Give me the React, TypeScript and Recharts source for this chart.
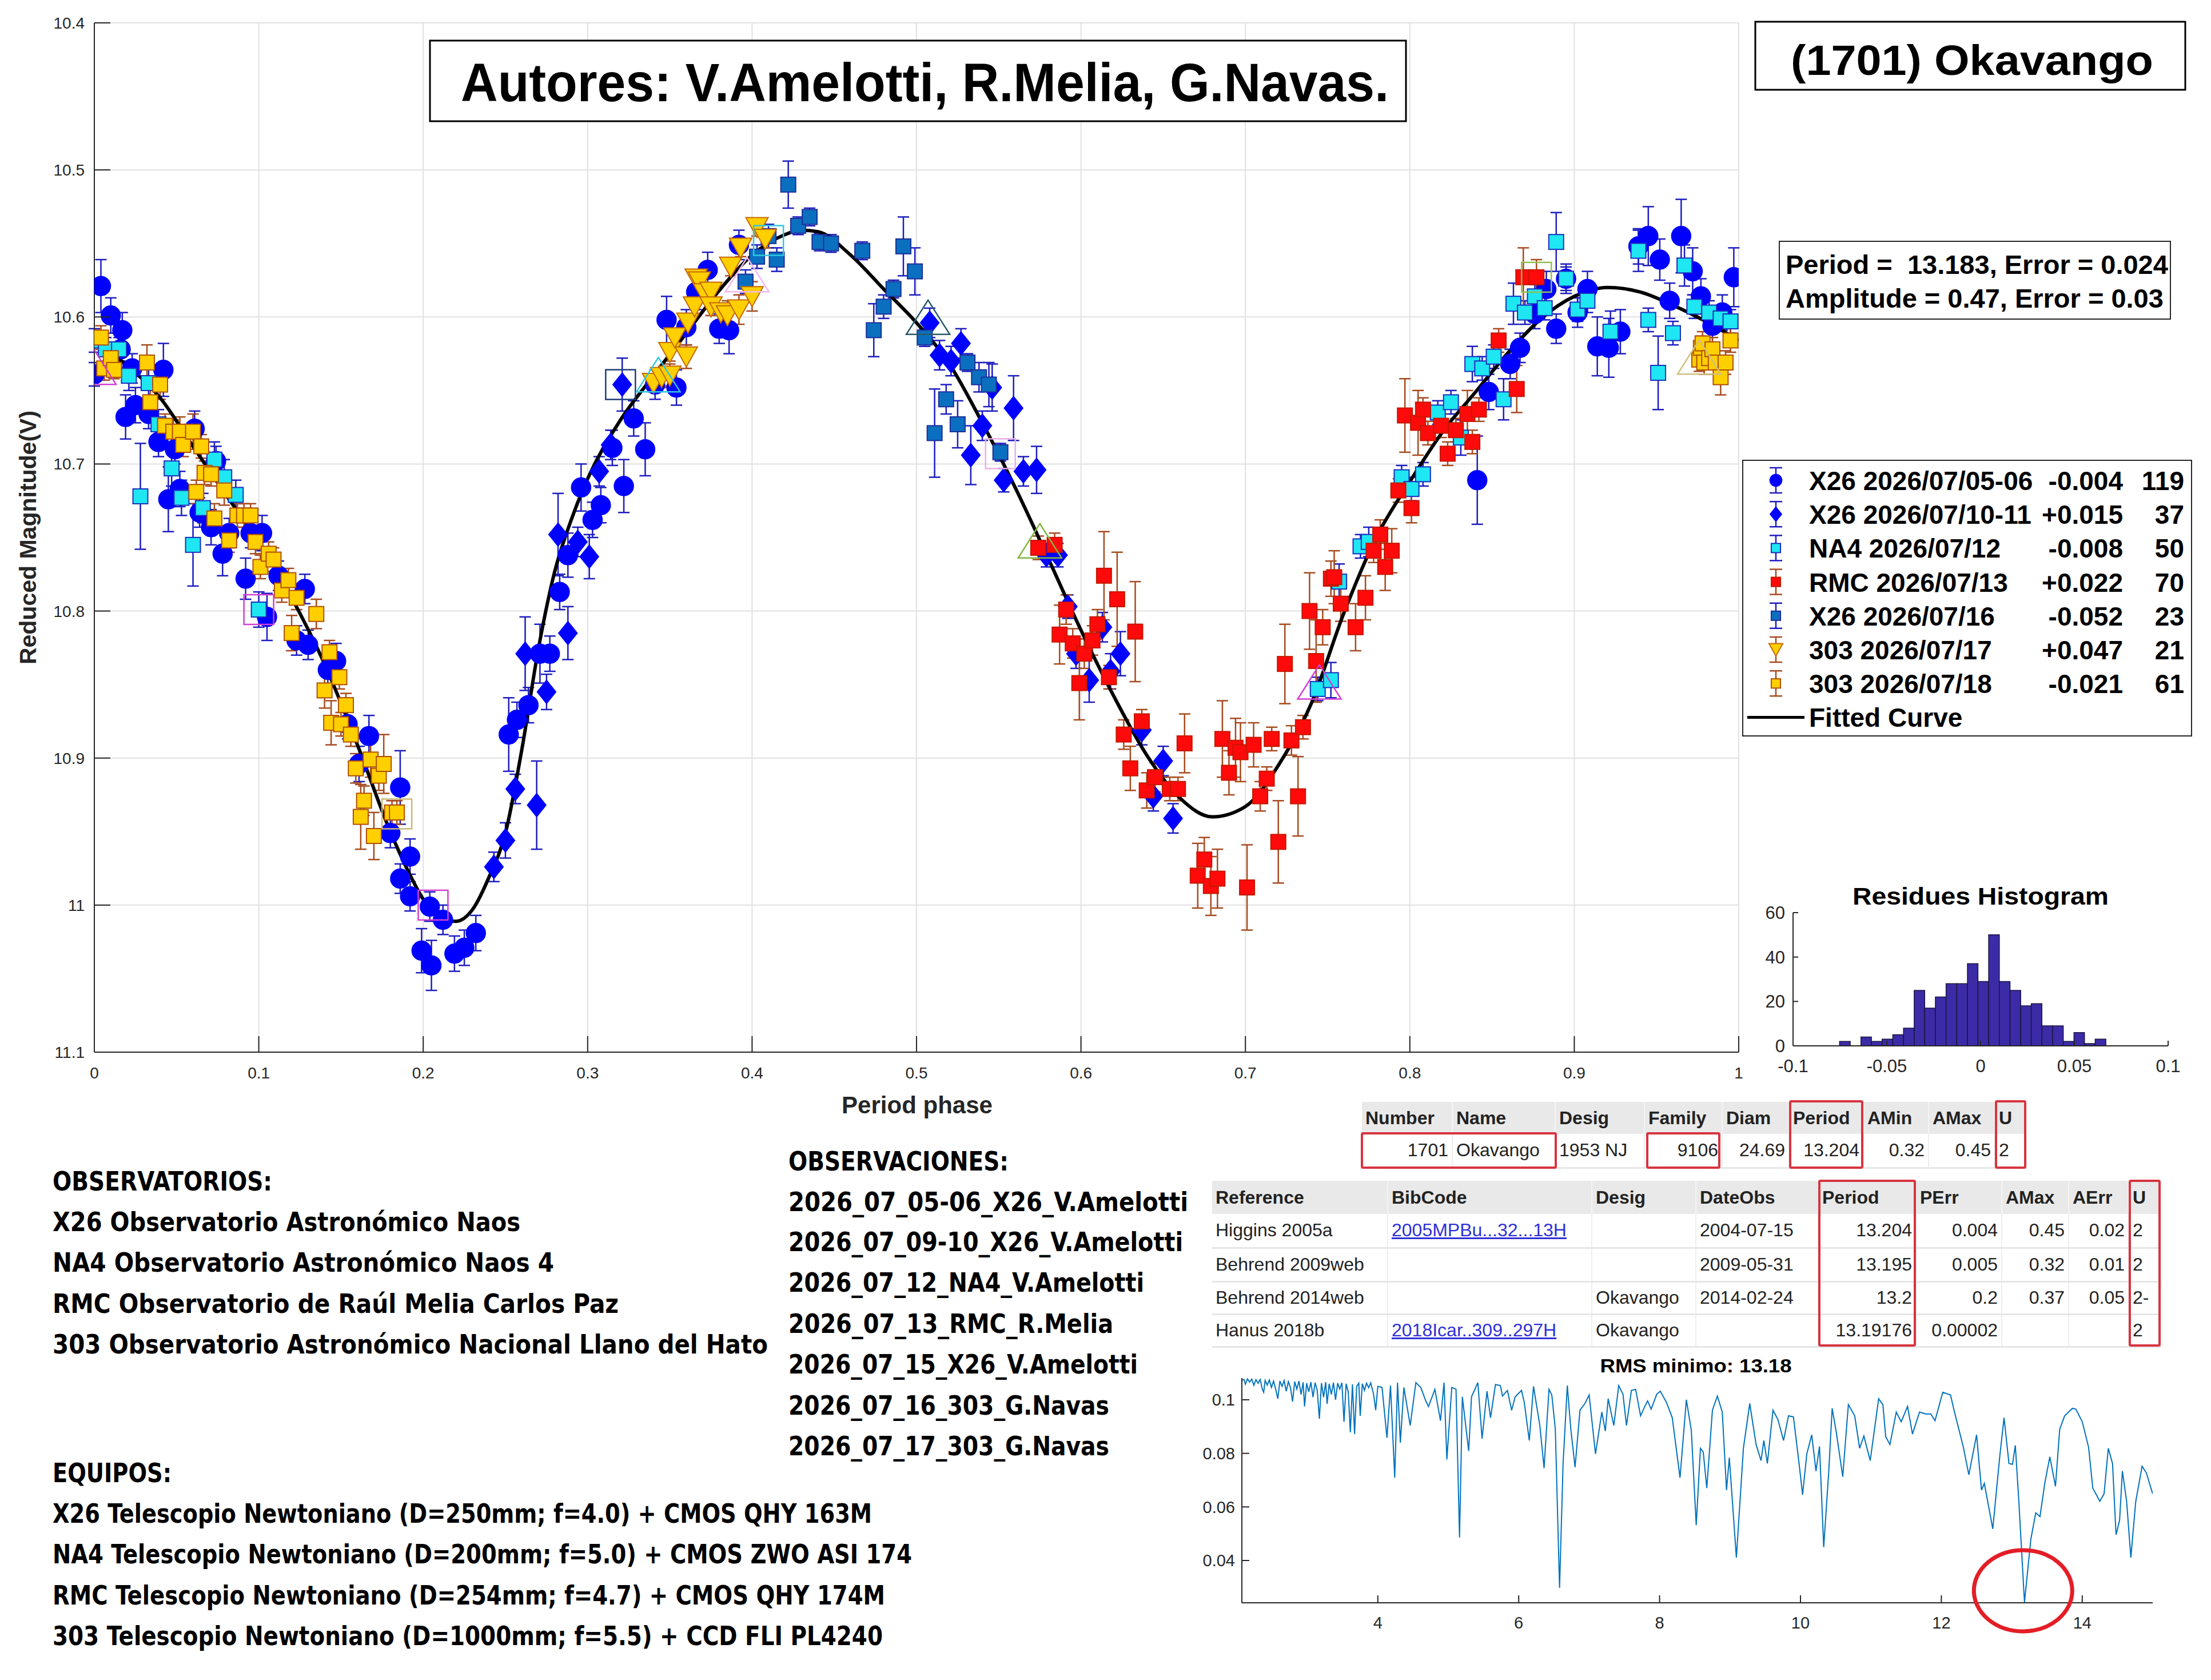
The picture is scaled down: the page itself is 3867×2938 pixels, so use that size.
import React from "react"
import {
  ComposedChart,
  LineChart,
  Line,
  Scatter,
  ErrorBar,
  XAxis,
  YAxis,
  CartesianGrid,
  ReferenceArea,
  ReferenceDot,
} from "recharts"

// [phase, reduced magnitude, error]
type Obs = [number, number, number]

const x26Jul0506: Obs[] = [
  [0.000, 10.639, 0.008], [0.004, 10.579, 0.018], [0.010, 10.599, 0.012], [0.016, 10.622, 0.010],
  [0.017, 10.609, 0.012], [0.019, 10.668, 0.015], [0.023, 10.635, 0.010], [0.025, 10.660, 0.012],
  [0.033, 10.666, 0.010], [0.039, 10.685, 0.010], [0.042, 10.636, 0.018], [0.045, 10.724, 0.022],
  [0.049, 10.690, 0.010], [0.052, 10.717, 0.012], [0.061, 10.676, 0.012], [0.064, 10.733, 0.010],
  [0.071, 10.743, 0.012], [0.074, 10.698, 0.010], [0.078, 10.761, 0.015], [0.082, 10.747, 0.010],
  [0.092, 10.778, 0.014], [0.095, 10.747, 0.010], [0.102, 10.747, 0.012], [0.105, 10.804, 0.016],
  [0.112, 10.776, 0.010], [0.123, 10.820, 0.010], [0.128, 10.785, 0.010], [0.130, 10.823, 0.010],
  [0.142, 10.840, 0.010], [0.147, 10.834, 0.012], [0.154, 10.877, 0.010], [0.161, 10.904, 0.012],
  [0.167, 10.885, 0.014], [0.180, 10.951, 0.010], [0.186, 10.920, 0.025], [0.186, 10.982, 0.010],
  [0.192, 10.967, 0.012], [0.192, 10.994, 0.010], [0.199, 11.031, 0.015], [0.204, 11.001, 0.010],
  [0.205, 11.041, 0.017], [0.212, 11.010, 0.010], [0.219, 11.033, 0.012], [0.225, 11.029, 0.012],
  [0.232, 11.019, 0.012],
  [0.252, 10.884, 0.025], [0.257, 10.874, 0.012], [0.264, 10.864, 0.012], [0.271, 10.829, 0.020],
  [0.277, 10.829, 0.012], [0.283, 10.787, 0.012], [0.288, 10.762, 0.015], [0.296, 10.716, 0.016],
  [0.303, 10.738, 0.012], [0.308, 10.728, 0.012], [0.315, 10.689, 0.012], [0.322, 10.715, 0.018],
  [0.328, 10.669, 0.012], [0.335, 10.690, 0.018], [0.341, 10.646, 0.010], [0.348, 10.602, 0.016],
  [0.354, 10.648, 0.012], [0.360, 10.607, 0.012], [0.366, 10.583, 0.012], [0.373, 10.568, 0.012],
  [0.380, 10.608, 0.010], [0.386, 10.609, 0.016], [0.392, 10.551, 0.010],
  [0.841, 10.711, 0.030], [0.848, 10.651, 0.012], [0.861, 10.632, 0.010], [0.867, 10.621, 0.010],
  [0.876, 10.598, 0.010], [0.883, 10.581, 0.012], [0.889, 10.608, 0.010], [0.895, 10.574, 0.010],
  [0.902, 10.597, 0.010], [0.908, 10.581, 0.012], [0.914, 10.620, 0.020], [0.921, 10.621, 0.020],
  [0.928, 10.610, 0.015], [0.939, 10.552, 0.012], [0.945, 10.545, 0.020], [0.952, 10.561, 0.014],
  [0.958, 10.589, 0.012], [0.965, 10.545, 0.025], [0.972, 10.569, 0.016], [0.977, 10.586, 0.012],
  [0.984, 10.606, 0.012], [0.990, 10.597, 0.012], [0.997, 10.573, 0.020],
]

const x26Jul1011: Obs[] = [
  [0.243, 10.974, 0.010], [0.250, 10.956, 0.012], [0.256, 10.921, 0.010], [0.262, 10.829, 0.025],
  [0.269, 10.932, 0.030], [0.275, 10.855, 0.012], [0.282, 10.748, 0.028], [0.288, 10.815, 0.018],
  [0.294, 10.753, 0.010], [0.301, 10.763, 0.015], [0.307, 10.705, 0.010], [0.314, 10.687, 0.010],
  [0.321, 10.646, 0.018],
  [0.508, 10.604, 0.010], [0.514, 10.626, 0.010], [0.521, 10.630, 0.010], [0.527, 10.618, 0.010],
  [0.533, 10.694, 0.020], [0.540, 10.674, 0.010], [0.546, 10.648, 0.016], [0.553, 10.711, 0.008],
  [0.559, 10.662, 0.022], [0.565, 10.705, 0.010], [0.573, 10.704, 0.016], [0.579, 10.762, 0.008],
  [0.586, 10.762, 0.008], [0.592, 10.797, 0.008], [0.597, 10.829, 0.010], [0.605, 10.847, 0.015],
  [0.613, 10.811, 0.010], [0.618, 10.841, 0.012], [0.624, 10.829, 0.015], [0.637, 10.881, 0.010],
  [0.644, 10.926, 0.010], [0.650, 10.902, 0.010], [0.656, 10.941, 0.010],
]

const na4Jul12: Obs[] = [
  [0.000, 10.616, 0.008], [0.007, 10.622, 0.008], [0.015, 10.622, 0.008], [0.021, 10.640, 0.010],
  [0.028, 10.722, 0.036], [0.033, 10.645, 0.010], [0.039, 10.673, 0.010], [0.047, 10.703, 0.012],
  [0.053, 10.723, 0.012], [0.060, 10.755, 0.028], [0.066, 10.730, 0.010], [0.073, 10.697, 0.012],
  [0.079, 10.709, 0.012], [0.086, 10.721, 0.010], [0.100, 10.799, 0.012],
  [0.744, 10.853, 0.008], [0.752, 10.847, 0.012], [0.757, 10.780, 0.012], [0.770, 10.756, 0.008],
  [0.775, 10.753, 0.010], [0.795, 10.709, 0.008], [0.801, 10.717, 0.008], [0.808, 10.707, 0.008],
  [0.817, 10.665, 0.008], [0.825, 10.658, 0.008], [0.831, 10.682, 0.012], [0.838, 10.632, 0.012],
  [0.844, 10.635, 0.008], [0.851, 10.627, 0.008], [0.857, 10.656, 0.014], [0.863, 10.591, 0.014],
  [0.870, 10.597, 0.008], [0.876, 10.586, 0.008], [0.882, 10.594, 0.008], [0.889, 10.549, 0.020],
  [0.895, 10.574, 0.008], [0.902, 10.595, 0.008], [0.908, 10.589, 0.008], [0.922, 10.610, 0.014],
  [0.939, 10.555, 0.014], [0.945, 10.602, 0.008], [0.951, 10.638, 0.025], [0.960, 10.611, 0.008],
  [0.967, 10.565, 0.014], [0.973, 10.593, 0.008], [0.982, 10.597, 0.008], [0.989, 10.601, 0.008],
  [0.995, 10.603, 0.008],
]

const rmcJul13: Obs[] = [
  [0.574, 10.757, 0.008], [0.584, 10.755, 0.008], [0.587, 10.816, 0.020], [0.591, 10.799, 0.010],
  [0.595, 10.822, 0.010], [0.599, 10.849, 0.025], [0.602, 10.829, 0.010], [0.607, 10.820, 0.010],
  [0.610, 10.809, 0.010], [0.614, 10.776, 0.030], [0.617, 10.845, 0.008], [0.622, 10.792, 0.032],
  [0.626, 10.884, 0.010], [0.630, 10.907, 0.015], [0.633, 10.814, 0.034], [0.637, 10.875, 0.008],
  [0.640, 10.922, 0.012], [0.645, 10.913, 0.010], [0.654, 10.921, 0.008], [0.659, 10.921, 0.008],
  [0.663, 10.890, 0.020], [0.671, 10.980, 0.022], [0.675, 10.969, 0.015], [0.679, 10.987, 0.020],
  [0.683, 10.982, 0.020], [0.686, 10.887, 0.026], [0.690, 10.910, 0.015], [0.694, 10.893, 0.020],
  [0.697, 10.896, 0.020], [0.701, 10.988, 0.029], [0.705, 10.891, 0.015], [0.709, 10.926, 0.010],
  [0.713, 10.914, 0.008], [0.716, 10.887, 0.008], [0.720, 10.957, 0.028], [0.724, 10.836, 0.027],
  [0.728, 10.888, 0.010], [0.732, 10.926, 0.027], [0.735, 10.879, 0.008], [0.739, 10.800, 0.026],
  [0.743, 10.834, 0.028], [0.747, 10.811, 0.012], [0.752, 10.778, 0.012], [0.754, 10.777, 0.018],
  [0.758, 10.795, 0.012], [0.767, 10.811, 0.016], [0.773, 10.791, 0.015], [0.778, 10.759, 0.008],
  [0.782, 10.748, 0.010], [0.785, 10.770, 0.016], [0.789, 10.759, 0.015], [0.793, 10.718, 0.008],
  [0.797, 10.667, 0.025], [0.801, 10.730, 0.010], [0.805, 10.672, 0.022], [0.808, 10.663, 0.008],
  [0.811, 10.679, 0.008], [0.819, 10.674, 0.008], [0.823, 10.693, 0.008], [0.828, 10.677, 0.008],
  [0.835, 10.666, 0.016], [0.838, 10.685, 0.008], [0.842, 10.663, 0.008], [0.854, 10.616, 0.008],
  [0.865, 10.649, 0.016], [0.869, 10.573, 0.020], [0.877, 10.573, 0.012],
]

const x26Jul16: Obs[] = [
  [0.396, 10.576, 0.008], [0.403, 10.559, 0.008], [0.410, 10.545, 0.008], [0.415, 10.561, 0.008],
  [0.422, 10.510, 0.016], [0.428, 10.538, 0.006], [0.435, 10.532, 0.006], [0.441, 10.549, 0.006],
  [0.448, 10.550, 0.006], [0.467, 10.555, 0.006], [0.474, 10.609, 0.018], [0.480, 10.593, 0.008],
  [0.486, 10.581, 0.006], [0.492, 10.552, 0.020], [0.499, 10.569, 0.016], [0.505, 10.614, 0.006],
  [0.511, 10.679, 0.030], [0.518, 10.656, 0.010], [0.525, 10.673, 0.016], [0.531, 10.631, 0.006],
  [0.538, 10.641, 0.010], [0.544, 10.646, 0.015], [0.551, 10.692, 0.006],
]

const obs303Jul17: Obs[] = [
  [0.340, 10.645, 0.006], [0.345, 10.641, 0.006], [0.350, 10.640, 0.008], [0.350, 10.624, 0.006],
  [0.353, 10.614, 0.006], [0.360, 10.627, 0.008], [0.361, 10.604, 0.006], [0.365, 10.593, 0.006],
  [0.366, 10.574, 0.006], [0.368, 10.576, 0.008], [0.371, 10.584, 0.006], [0.375, 10.583, 0.006],
  [0.375, 10.593, 0.006], [0.381, 10.597, 0.006], [0.385, 10.599, 0.010], [0.387, 10.566, 0.006],
  [0.392, 10.595, 0.010], [0.393, 10.553, 0.006], [0.400, 10.586, 0.010], [0.403, 10.539, 0.006],
  [0.408, 10.547, 0.006],
]

const obs303Jul18: Obs[] = [
  [0.004, 10.614, 0.008], [0.006, 10.635, 0.008], [0.010, 10.628, 0.006], [0.012, 10.636, 0.006],
  [0.032, 10.631, 0.012], [0.034, 10.658, 0.010], [0.040, 10.646, 0.010], [0.043, 10.674, 0.008],
  [0.048, 10.678, 0.008], [0.052, 10.678, 0.010], [0.054, 10.687, 0.008], [0.060, 10.678, 0.012],
  [0.062, 10.719, 0.008], [0.065, 10.688, 0.008], [0.067, 10.706, 0.008], [0.071, 10.707, 0.008],
  [0.073, 10.737, 0.010], [0.079, 10.718, 0.010], [0.082, 10.752, 0.008], [0.087, 10.735, 0.008],
  [0.091, 10.735, 0.008], [0.095, 10.735, 0.008], [0.098, 10.753, 0.008], [0.101, 10.770, 0.008],
  [0.106, 10.761, 0.008], [0.109, 10.765, 0.008], [0.114, 10.786, 0.008], [0.118, 10.779, 0.008],
  [0.120, 10.815, 0.012], [0.123, 10.791, 0.008], [0.135, 10.802, 0.010], [0.140, 10.854, 0.012],
  [0.143, 10.828, 0.008], [0.144, 10.876, 0.015], [0.149, 10.845, 0.008], [0.150, 10.877, 0.008],
  [0.153, 10.864, 0.008], [0.156, 10.884, 0.008], [0.159, 10.907, 0.010], [0.162, 10.940, 0.022],
  [0.164, 10.929, 0.010], [0.168, 10.901, 0.012], [0.170, 10.953, 0.016], [0.173, 10.912, 0.010],
  [0.176, 10.904, 0.020], [0.181, 10.937, 0.008], [0.184, 10.937, 0.008],
  [0.976, 10.629, 0.008], [0.977, 10.621, 0.008], [0.978, 10.618, 0.008], [0.979, 10.631, 0.008],
  [0.982, 10.628, 0.008], [0.984, 10.622, 0.008], [0.986, 10.631, 0.008], [0.989, 10.641, 0.012],
  [0.992, 10.631, 0.008], [0.995, 10.616, 0.008],
]

// start/end markers of each session (hollow)
const sessionMarks: [number, number, "tri" | "sq"][] = [
  [0.000, 10.635, "tri"], [0.100, 10.799, "sq"], [0.184, 10.938, "sq"], [0.206, 11.000, "sq"],
  [0.320, 10.646, "sq"], [0.343, 10.640, "tri"], [0.410, 10.548, "sq"], [0.397, 10.572, "tri"],
  [0.507, 10.601, "tri"], [0.551, 10.693, "sq"], [0.575, 10.753, "tri"], [0.745, 10.849, "tri"],
  [0.877, 10.573, "sq"], [0.976, 10.628, "tri"],
]

const fitPhase = [
  0, 0.02, 0.04, 0.06, 0.08, 0.1, 0.12, 0.14, 0.16, 0.18, 0.19, 0.2, 0.21, 0.22, 0.23, 0.24, 0.25,
  0.26, 0.27, 0.28, 0.29, 0.3, 0.32, 0.34, 0.36, 0.38, 0.4, 0.42, 0.43, 0.44, 0.46, 0.48, 0.5, 0.52,
  0.54, 0.56, 0.58, 0.6, 0.62, 0.64, 0.66, 0.68, 0.7, 0.72, 0.74, 0.76, 0.78, 0.8, 0.82, 0.84, 0.86,
  0.88, 0.9, 0.92, 0.94, 0.96, 0.98, 1,
]
const fitMag = [
  10.617, 10.633, 10.655, 10.688, 10.721, 10.753, 10.791, 10.836, 10.891, 10.95, 10.975, 10.996,
  11.009, 11.011, 11.003, 10.981, 10.951, 10.894, 10.826, 10.773, 10.738, 10.71, 10.67, 10.64,
  10.611, 10.582, 10.558, 10.544, 10.541, 10.542, 10.558, 10.581, 10.604, 10.632, 10.672, 10.716,
  10.764, 10.813, 10.858, 10.898, 10.927, 10.94, 10.933, 10.905, 10.863, 10.801, 10.749, 10.712,
  10.678, 10.651, 10.624, 10.601, 10.586, 10.58, 10.583, 10.592, 10.603, 10.616,
]

const phaseTicks = [0, 0.1, 0.2, 0.3, 0.4, 0.5, 0.6, 0.7, 0.8, 0.9, 1]
const magTicks = [10.4, 10.5, 10.6, 10.7, 10.8, 10.9, 11, 11.1]

const legendLabels = [
  "X26 2026/07/05-06", "X26 2026/07/10-11", "NA4 2026/07/12", "RMC 2026/07/13",
  "X26 2026/07/16", "303 2026/07/17", "303 2026/07/18",
]
const legendOffsets = ["-0.004", "+0.015", "-0.008", "+0.022", "-0.052", "+0.047", "-0.021"]
const legendCounts = ["119", "37", "50", "70", "23", "21", "61"]

// residual histogram
const residueEdges = [
  -0.0752, -0.0695, -0.0638, -0.0582, -0.0525, -0.0468, -0.0411, -0.0354, -0.0298, -0.0241,
  -0.0184, -0.0127, -0.007, -0.0014, 0.0043, 0.01, 0.0157, 0.0214, 0.027, 0.0327, 0.0384, 0.0441,
  0.0498, 0.0554, 0.0611, 0.0668,
]
const residueCounts = [2, 0, 4, 2, 3, 5, 8, 25, 17, 22, 28, 28, 37, 29, 50, 29, 25, 18, 19, 9, 9, 2, 6, 1, 3]
const residueTicksX = [-0.1, -0.05, 0, 0.05, 0.1]
const residueTicksY = [0, 20, 40, 60]

// period scan: [period h, rms]
const rmsScan: [number, number][] = [
  [2.07, 0.1072], [2.1, 0.1076], [2.12, 0.1058], [2.15, 0.1078], [2.18, 0.1066], [2.21, 0.1077],
  [2.24, 0.1054], [2.27, 0.1075], [2.3, 0.1062], [2.33, 0.1076], [2.36, 0.104], [2.38, 0.1028],
  [2.4, 0.1072], [2.43, 0.1055], [2.46, 0.1074], [2.49, 0.1046], [2.52, 0.107], [2.55, 0.104],
  [2.58, 0.1004], [2.61, 0.107], [2.64, 0.105], [2.67, 0.1072], [2.7, 0.1032], [2.73, 0.1068],
  [2.76, 0.1045], [2.79, 0.0993], [2.82, 0.1068], [2.85, 0.104], [2.88, 0.107], [2.91, 0.102],
  [2.94, 0.1065], [2.96, 0.0975], [2.99, 0.1062], [3.02, 0.103], [3.05, 0.1066], [3.08, 0.101],
  [3.11, 0.1064], [3.14, 0.1035], [3.17, 0.0929], [3.2, 0.1062], [3.23, 0.101], [3.26, 0.1066],
  [3.28, 0.0985], [3.31, 0.106], [3.34, 0.102], [3.37, 0.1064], [3.4, 0.1], [3.43, 0.1062],
  [3.46, 0.104], [3.49, 0.1064], [3.52, 0.0918], [3.55, 0.106], [3.58, 0.103], [3.61, 0.0879],
  [3.64, 0.1058], [3.67, 0.0872], [3.7, 0.105], [3.73, 0.1062], [3.75, 0.094], [3.78, 0.106],
  [3.81, 0.1035], [3.84, 0.1062], [3.87, 0.1045], [3.9, 0.1063], [3.94, 0.102], [3.97, 0.0961],
  [4.0, 0.105], [4.06, 0.1046], [4.13, 0.0858], [4.18, 0.1053], [4.24, 0.0709], [4.28, 0.1064],
  [4.32, 0.084], [4.37, 0.1046], [4.46, 0.0904], [4.54, 0.1064], [4.61, 0.1046], [4.68, 0.0996],
  [4.72, 0.0975], [4.81, 0.1039], [4.89, 0.0922], [4.94, 0.1064], [4.98, 0.0777], [5.05, 0.1046],
  [5.11, 0.1039], [5.16, 0.0486], [5.2, 0.1011], [5.29, 0.0809], [5.33, 0.1011], [5.42, 0.1064],
  [5.48, 0.0855], [5.55, 0.1032], [5.6, 0.0933], [5.67, 0.1057], [5.74, 0.1053], [5.77, 0.1014],
  [5.84, 0.1035], [5.9, 0.0961], [5.95, 0.1011], [6.04, 0.1035], [6.08, 0.0989], [6.15, 0.0848],
  [6.21, 0.105], [6.3, 0.0904], [6.36, 0.0745], [6.43, 0.1039], [6.47, 0.1018], [6.52, 0.089],
  [6.58, 0.0298], [6.63, 0.0762], [6.69, 0.1053], [6.74, 0.089], [6.8, 0.0748], [6.87, 0.0961],
  [6.94, 0.0986], [7.0, 0.1018], [7.09, 0.0798], [7.18, 0.0954], [7.23, 0.0883], [7.27, 0.1004],
  [7.35, 0.0904], [7.42, 0.1053], [7.48, 0.1021], [7.53, 0.0904], [7.6, 0.1035], [7.66, 0.1039],
  [7.73, 0.094], [7.79, 0.0975], [7.83, 0.0996], [7.88, 0.0965], [7.96, 0.1021], [8.01, 0.1032],
  [8.1, 0.0989], [8.18, 0.0933], [8.29, 0.0709], [8.38, 0.1], [8.45, 0.0887], [8.52, 0.0532],
  [8.58, 0.0819], [8.62, 0.0805], [8.67, 0.067], [8.75, 0.0961], [8.82, 0.1014], [8.89, 0.0954],
  [8.95, 0.0663], [8.99, 0.0784], [9.09, 0.0411], [9.19, 0.0819], [9.28, 0.0986], [9.37, 0.0833],
  [9.44, 0.0773], [9.48, 0.0848], [9.53, 0.0762], [9.61, 0.0961], [9.68, 0.0926], [9.76, 0.0848],
  [9.83, 0.094], [9.9, 0.0936], [9.98, 0.0762], [10.03, 0.0645], [10.09, 0.0798], [10.16, 0.0869],
  [10.22, 0.0734], [10.27, 0.0826], [10.33, 0.045], [10.4, 0.0727], [10.45, 0.0968], [10.51, 0.0876],
  [10.6, 0.0713], [10.68, 0.0982], [10.77, 0.094], [10.84, 0.0819], [10.9, 0.0865], [10.99, 0.0773],
  [11.11, 0.1004], [11.17, 0.0982], [11.21, 0.0862], [11.27, 0.0833], [11.36, 0.0954], [11.43, 0.0918],
  [11.52, 0.0975], [11.59, 0.0872], [11.69, 0.0954], [11.78, 0.0947], [11.85, 0.0947], [11.91, 0.0922],
  [12.02, 0.1028], [12.13, 0.1018], [12.18, 0.0961], [12.31, 0.0826], [12.39, 0.072], [12.5, 0.0869],
  [12.57, 0.0663], [12.61, 0.0688], [12.73, 0.0518], [12.83, 0.0791], [12.89, 0.0933], [12.96, 0.0762],
  [13.01, 0.0759], [13.05, 0.083], [13.1, 0.0621], [13.18, 0.0244], [13.27, 0.0479], [13.34, 0.0578],
  [13.4, 0.0564], [13.47, 0.0691], [13.54, 0.0787], [13.62, 0.0677], [13.68, 0.089], [13.75, 0.094],
  [13.86, 0.0968], [13.91, 0.0965], [14.0, 0.0918], [14.09, 0.0823], [14.15, 0.067], [14.25, 0.0621],
  [14.31, 0.0649], [14.37, 0.0819], [14.43, 0.0762], [14.48, 0.0496], [14.53, 0.055], [14.57, 0.0734],
  [14.63, 0.0621], [14.69, 0.0411], [14.76, 0.0621], [14.85, 0.0752], [14.91, 0.0727], [15.0, 0.0649],
]
const scanTicksX = [4, 6, 8, 10, 12, 14]
const scanTicksY = [0.04, 0.06, 0.08, 0.1]
const rmsBestPeriod = 13.16
const rmsBestMark = 0.0287

const observatorios = [
  "OBSERVATORIOS:",
  "X26 Observatorio Astronómico Naos",
  "NA4 Observatorio Astronómico Naos 4",
  "RMC Observatorio de Raúl Melia Carlos Paz",
  "303 Observatorio Astronómico Nacional Llano del Hato",
]
const observaciones = [
  "OBSERVACIONES:",
  "2026_07_05-06_X26_V.Amelotti",
  "2026_07_09-10_X26_V.Amelotti",
  "2026_07_12_NA4_V.Amelotti",
  "2026_07_13_RMC_R.Melia",
  "2026_07_15_X26_V.Amelotti",
  "2026_07_16_303_G.Navas",
  "2026_07_17_303_G.Navas",
]
const equipos = [
  "EQUIPOS:",
  "X26 Telescopio Newtoniano (D=250mm; f=4.0) + CMOS QHY 163M",
  "NA4 Telescopio Newtoniano (D=200mm; f=5.0) + CMOS ZWO ASI 174",
  "RMC Telescopio Newtoniano (D=254mm; f=4.7) + CMOS QHY 174M",
  "303 Telescopio Newtoniano (D=1000mm; f=5.5) + CCD FLI PL4240",
]

const lcdbHead = ["Number", "Name", "Desig", "Family", "Diam", "Period", "AMin", "AMax", "U"]
const lcdbRow = ["1701", "Okavango", "1953 NJ", "9106", "24.69", "13.204", "0.32", "0.45", "2"]
const refHead = ["Reference", "BibCode", "Desig", "DateObs", "Period", "PErr", "AMax", "AErr", "U"]
const refRows = [
  ["Higgins 2005a", "2005MPBu...32...13H", "", "2004-07-15", "13.204", "0.004", "0.45", "0.02", "2"],
  ["Behrend 2009web", "", "", "2009-05-31", "13.195", "0.005", "0.32", "0.01", "2"],
  ["Behrend 2014web", "", "Okavango", "2014-02-24", "13.2", "0.2", "0.37", "0.05", "2-"],
  ["Hanus 2018b", "2018Icar..309..297H", "Okavango", "", "13.19176", "0.00002", "", "", "2"],
]

// ---------------------------------------------------------------------------

const AXIS = "#262626"
const SANS = "'Liberation Sans', Arial, Helvetica, sans-serif"
const NARROW = "'Liberation Sans Narrow', 'DejaVu Sans Condensed', 'Liberation Sans', sans-serif"

type Kind = "circle" | "diamond" | "square" | "tri-down"

const seriesStyle: { kind: Kind; fill: string; stroke: string; bar: string }[] = [
  { kind: "circle", fill: "#0000ff", stroke: "#0000ff", bar: "#1c1cc0" },
  { kind: "diamond", fill: "#0000ff", stroke: "#0000ff", bar: "#1c1cc0" },
  { kind: "square", fill: "#1ee6f2", stroke: "#1b2fc0", bar: "#1c1cc0" },
  { kind: "square", fill: "#ff0a0a", stroke: "#c41800", bar: "#a64a1e" },
  { kind: "square", fill: "#0b6fc0", stroke: "#1b2f9a", bar: "#1c1cc0" },
  { kind: "tri-down", fill: "#ffcf00", stroke: "#c46a00", bar: "#a64a1e" },
  { kind: "square", fill: "#ffcf00", stroke: "#b05000", bar: "#a64a1e" },
]
const seriesRows = [x26Jul0506, x26Jul1011, na4Jul12, rmcJul13, x26Jul16, obs303Jul17, obs303Jul18]
const sessionColors = [
  "#d23fd2", "#d23fd2", "#c8b878", "#d23fd2", "#203c78", "#30c8e0", "#30c8e0",
  "#f0b8f0", "#285a6a", "#e8b0e8", "#80b840", "#d23fd2", "#90c050", "#d0c080",
]

const toPoints = (rows: Obs[]) => rows.map(([phase, mag, err]) => ({ phase, mag, err }))
const fitCurve = fitPhase.map((phase, i) => ({ phase, mag: fitMag[i] }))
const scanPoints = rmsScan.map(([period, rms]) => ({ period, rms }))

function Marker({ kind, cx, cy, fill, stroke, s = 1 }: { kind: Kind; cx: number; cy: number; fill: string; stroke: string; s?: number }) {
  if (kind === "circle") return <circle cx={cx} cy={cy} r={17 * s} fill={fill} stroke={stroke} strokeWidth={1.5} />
  if (kind === "diamond") {
    const w = 16.5 * s
    const h = 20.5 * s
    return <polygon points={`${cx},${cy - h} ${cx + w},${cy} ${cx},${cy + h} ${cx - w},${cy}`} fill={fill} stroke={stroke} strokeWidth={1.5} />
  }
  if (kind === "square") {
    const h = 13 * s
    return <rect x={cx - h} y={cy - h} width={2 * h} height={2 * h} fill={fill} stroke={stroke} strokeWidth={2} />
  }
  const w = 19.5 * s
  return <polygon points={`${cx - w},${cy - 17 * s} ${cx + w},${cy - 17 * s} ${cx},${cy + 18 * s}`} fill={fill} stroke={stroke} strokeWidth={2} />
}

function HollowMark({ cx, cy, kind, color }: any) {
  if (kind === "sq") return <rect x={cx - 26} y={cy - 26} width={52} height={52} fill="none" stroke={color} strokeWidth={2.5} />
  return <polygon points={`${cx},${cy - 32} ${cx + 38},${cy + 28} ${cx - 38},${cy + 28}`} fill="none" stroke={color} strokeWidth={2.5} />
}

// inward tick marks, MATLAB style
const BottomTick = ({ x, y, payload, len, size, gap, label = true }: any) => (
  <g>
    <line x1={x} y1={y} x2={x} y2={y - len} stroke={AXIS} strokeWidth={2} />
    {label && (
      <text x={x} y={y + gap} dy="0.71em" textAnchor="middle" fontSize={size} fill={AXIS}>
        {String(payload.value)}
      </text>
    )}
  </g>
)
const LeftTick = ({ x, y, payload, len, size, gap }: any) => (
  <g>
    <line x1={x} y1={y} x2={x + len} y2={y} stroke={AXIS} strokeWidth={2} />
    <text x={x - gap} y={y} dy="0.355em" textAnchor="end" fontSize={size} fill={AXIS}>
      {String(payload.value)}
    </text>
  </g>
)
const TopTick = ({ x, y, len }: any) => <line x1={x} y1={y} x2={x} y2={y + len} stroke={AXIS} strokeWidth={2} />
const RightTick = ({ x, y, len }: any) => <line x1={x} y1={y} x2={x - len} y2={y} stroke={AXIS} strokeWidth={2} />

function LightCurve() {
  return (
    <div style={{ position: "absolute", left: 0, top: 0 }}>
      <ComposedChart width={3060} height={1990} margin={{ top: 40, right: 19, bottom: 0, left: 0 }}>
        <CartesianGrid stroke="#e1e1e1" strokeWidth={2} />
        <XAxis
          type="number" dataKey="phase" domain={[0, 1]} ticks={phaseTicks} interval={0} allowDataOverflow
          height={150} tickSize={0} tickMargin={0} tickLine={false}
          axisLine={{ stroke: AXIS, strokeWidth: 2 }}
          tick={<BottomTick len={28} size={28} gap={26} />}
        />
        <YAxis
          type="number" dataKey="mag" domain={[10.4, 11.1]} reversed ticks={magTicks} interval={0} allowDataOverflow
          width={165} tickSize={0} tickMargin={0} tickLine={false}
          axisLine={{ stroke: AXIS, strokeWidth: 2 }}
          tick={<LeftTick len={28} size={28} gap={17} />}
        />
        {seriesRows.map((rows, i) => {
          const st = seriesStyle[i]
          return (
            <Scatter
              key={legendLabels[i]}
              name={legendLabels[i]}
              data={toPoints(rows)}
              isAnimationActive={false}
              shape={(p: any) => <Marker kind={st.kind} cx={p.cx} cy={p.cy} fill={st.fill} stroke={st.stroke} />}
            >
              <ErrorBar dataKey="err" direction="y" width={10} stroke={st.bar} strokeWidth={2.5} />
            </Scatter>
          )
        })}
        {sessionMarks.map(([phase, mag, kind], i) => (
          <Scatter
            key={`mark-${i}`}
            data={[{ phase, mag }]}
            isAnimationActive={false}
            shape={(p: any) => <HollowMark cx={p.cx} cy={p.cy} kind={kind} color={sessionColors[i]} />}
          />
        ))}
        <Line data={fitCurve} dataKey="mag" type="monotone" stroke="#000" strokeWidth={6} dot={false} isAnimationActive={false} />
      </ComposedChart>
    </div>
  )
}

function ResidueHistogram() {
  const bins = residueCounts.map((count, i) => ({ x0: residueEdges[i], x1: residueEdges[i + 1], count }))
  return (
    <div style={{ position: "absolute", left: 3040, top: 1520 }}>
      <ComposedChart width={827} height={400} margin={{ top: 76, right: 75, bottom: 0, left: 0 }} data={bins}>
        <XAxis
          type="number" dataKey="x0" domain={[-0.1, 0.1]} ticks={residueTicksX} interval={0} allowDataOverflow
          height={91} tickSize={0} tickMargin={0} tickLine={false}
          axisLine={{ stroke: AXIS, strokeWidth: 2 }}
          tick={<BottomTick len={9} size={31} gap={24} />}
        />
        <YAxis
          type="number" domain={[0, 60]} ticks={residueTicksY} interval={0} allowDataOverflow
          width={96} tickSize={0} tickMargin={0} tickLine={false}
          axisLine={{ stroke: AXIS, strokeWidth: 2 }}
          tick={<LeftTick len={9} size={31} gap={14} />}
        />
        <XAxis
          xAxisId="top" orientation="top" type="number" domain={[-0.1, 0.1]} ticks={residueTicksX} interval={0}
          allowDataOverflow height={0} tickSize={0} tickMargin={0} tickLine={false}
          axisLine={{ stroke: AXIS, strokeWidth: 2 }} tick={<TopTick len={9} />}
        />
        <YAxis
          yAxisId="right" orientation="right" type="number" domain={[0, 60]} ticks={residueTicksY} interval={0}
          allowDataOverflow width={0} tickSize={0} tickMargin={0} tickLine={false}
          axisLine={{ stroke: AXIS, strokeWidth: 2 }} tick={<RightTick len={9} />}
        />
        {bins
          .filter((b) => b.count > 0)
          .map((b, i) => (
            <ReferenceArea
              key={i} x1={b.x0} x2={b.x1} y1={0} y2={b.count}
              fill="#3c2ba6" fillOpacity={1} stroke="#1a1640" strokeWidth={1.5} ifOverflow="visible"
            />
          ))}
      </ComposedChart>
    </div>
  )
}

function PeriodScan() {
  return (
    <div style={{ position: "absolute", left: 2060, top: 2360 }}>
      <LineChart width={1760} height={578} data={scanPoints} margin={{ top: 50, right: 55, bottom: 0, left: 0 }}>
        <XAxis
          type="number" dataKey="period" domain={[2.07, 15]} ticks={scanTicksX} interval={0} allowDataOverflow
          height={135} tickSize={0} tickMargin={0} tickLine={false}
          axisLine={{ stroke: AXIS, strokeWidth: 2 }}
          tick={<BottomTick len={13} size={29} gap={24} />}
        />
        <YAxis
          type="number" dataKey="rms" domain={[0.0242, 0.1081]} ticks={scanTicksY} interval={0} allowDataOverflow
          width={112} tickSize={0} tickMargin={0} tickLine={false}
          axisLine={{ stroke: AXIS, strokeWidth: 2 }}
          tick={<LeftTick len={13} size={29} gap={12} />}
        />
        <XAxis
          xAxisId="top" orientation="top" type="number" domain={[2.07, 15]} ticks={scanTicksX} interval={0}
          allowDataOverflow height={0} tickSize={0} tickMargin={0} tickLine={false}
          axisLine={{ stroke: AXIS, strokeWidth: 2 }} tick={<TopTick len={13} />}
        />
        <YAxis
          yAxisId="right" orientation="right" type="number" domain={[0.0242, 0.1081]} ticks={scanTicksY} interval={0}
          allowDataOverflow width={0} tickSize={0} tickMargin={0} tickLine={false}
          axisLine={{ stroke: AXIS, strokeWidth: 2 }} tick={<RightTick len={13} />}
        />
        <Line dataKey="rms" type="linear" stroke="#0072bd" strokeWidth={2} dot={false} isAnimationActive={false} />
        <ReferenceDot
          x={rmsBestPeriod} y={rmsBestMark} ifOverflow="visible"
          shape={(p: any) => <ellipse cx={p.cx} cy={p.cy} rx={86} ry={71} fill="none" stroke="#e41e26" strokeWidth={7} />}
        />
      </LineChart>
    </div>
  )
}

function DataTable({ left, top, widths, head, rows, align, rowH, linkCol = -1 }: any) {
  const total = widths.reduce((a: number, b: number) => a + b, 0)
  return (
    <table
      style={{
        position: "absolute", left, top, width: total, borderCollapse: "collapse", tableLayout: "fixed",
        fontFamily: SANS, fontSize: 32, color: "#222",
      }}
    >
      <colgroup>
        {widths.map((w: number, i: number) => <col key={i} style={{ width: w }} />)}
      </colgroup>
      <thead>
        <tr style={{ background: "#e9e9e9", height: rowH[0] }}>
          {head.map((h: string, i: number) => (
            <th key={i} style={{ textAlign: "left", padding: "0 6px", fontWeight: 700, borderRight: "2px solid #f4f4f4", whiteSpace: "nowrap", overflow: "hidden" }}>
              {h}
            </th>
          ))}
        </tr>
      </thead>
      <tbody>
        {rows.map((r: string[], ri: number) => (
          <tr key={ri} style={{ height: rowH[ri + 1], borderBottom: "3px solid #e6e6e6" }}>
            {r.map((c, ci) => (
              <td key={ci} style={{ textAlign: align[ci], padding: "0 6px", borderRight: "2px solid #eeeeee", whiteSpace: "nowrap", overflow: "hidden" }}>
                {ci === linkCol && c ? <span style={{ color: "#3030d8", textDecoration: "underline" }}>{c}</span> : c}
              </td>
            ))}
          </tr>
        ))}
      </tbody>
    </table>
  )
}

const RedBox = ({ x, y, w, h }: { x: number; y: number; w: number; h: number }) => (
  <div style={{ position: "absolute", left: x, top: y, width: w, height: h, boxSizing: "border-box", border: "4px solid #d8343f", borderRadius: 4 }} />
)

function Overlay() {
  const obsW = [384, 818, 877, 990, 1251]
  const obsY = [2082, 2153, 2224, 2296, 2367]
  const eqW = [208, 1433, 1503, 1456, 1452]
  const eqY = [2592, 2663, 2734, 2806, 2877]
  const acW = [385, 699, 690, 622, 568, 611, 561, 561]
  const acY = [2047, 2118, 2188, 2259, 2331, 2402, 2474, 2545]
  const rowY = (i: number) => 857 + i * 59.2
  return (
    <svg width={3867} height={2938} style={{ position: "absolute", left: 0, top: 0, pointerEvents: "none" }} fontFamily={SANS}>
      {/* axis titles */}
      <text x={49} y={940} transform="rotate(-90 49 940)" textAnchor="middle" dominantBaseline="central" fontSize={41} fontWeight={700} fill={AXIS}>
        Reduced Magnitude(V)
      </text>
      <text x={1604} y={1947} textAnchor="middle" fontSize={42} fontWeight={700} fill={AXIS}>Period phase</text>

      {/* authors and object */}
      <rect x={752} y={71} width={1707} height={141} fill="#fff" stroke="#000" strokeWidth={3} />
      <text x={806} y={177} fontSize={94} fontWeight={700} textLength={1623} lengthAdjust="spacingAndGlyphs">
        Autores: V.Amelotti, R.Melia, G.Navas.
      </text>
      <rect x={3070} y={38} width={752} height={119} fill="#fff" stroke="#000" strokeWidth={3} />
      <text x={3132} y={131} fontSize={74} fontWeight={700} textLength={634} lengthAdjust="spacingAndGlyphs">
        (1701) Okavango
      </text>

      {/* fit result */}
      <rect x={3112} y={422} width={684} height={136} fill="#fff" stroke={AXIS} strokeWidth={2} />
      <text x={3123} y={479} fontSize={47} fontWeight={700} style={{ whiteSpace: "pre" }}>Period =  13.183, Error = 0.024</text>
      <text x={3123} y={538} fontSize={47} fontWeight={700} style={{ whiteSpace: "pre" }}>Amplitude = 0.47, Error = 0.03</text>

      {/* legend */}
      <rect x={3048} y={805} width={785} height={482} fill="#fff" stroke={AXIS} strokeWidth={2} />
      {legendLabels.map((label, i) => {
        const st = seriesStyle[i]
        const y = rowY(i)
        const cy = y - 17
        return (
          <g key={label}>
            <line x1={3106} y1={cy - 22} x2={3106} y2={cy + 22} stroke={st.bar} strokeWidth={2.5} />
            <line x1={3095} y1={cy - 22} x2={3117} y2={cy - 22} stroke={st.bar} strokeWidth={2.5} />
            <line x1={3095} y1={cy + 22} x2={3117} y2={cy + 22} stroke={st.bar} strokeWidth={2.5} />
            <Marker kind={st.kind} cx={3106} cy={cy} fill={st.fill} stroke={st.stroke} s={0.62} />
            <text x={3164} y={y} fontSize={46} fontWeight={700}>{label}</text>
            <text x={3713} y={y} fontSize={46} fontWeight={700} textAnchor="end">{legendOffsets[i]}</text>
            <text x={3820} y={y} fontSize={46} fontWeight={700} textAnchor="end">{legendCounts[i]}</text>
          </g>
        )
      })}
      <line x1={3056} y1={rowY(7) - 17} x2={3156} y2={rowY(7) - 17} stroke="#000" strokeWidth={5} />
      <text x={3164} y={rowY(7)} fontSize={46} fontWeight={700}>Fitted Curve</text>

      {/* small panel titles */}
      <text x={3464} y={1582} textAnchor="middle" fontSize={42} fontWeight={700} textLength={448} lengthAdjust="spacingAndGlyphs">
        Residues Histogram
      </text>
      <text x={2966} y={2400} textAnchor="middle" fontSize={33} fontWeight={700} textLength={335} lengthAdjust="spacingAndGlyphs">
        RMS minimo: 13.18
      </text>

      {/* notes */}
      <g fontFamily={NARROW} fontWeight={700} fontSize={47} fill="#000">
        {observatorios.map((t, i) => (
          <text key={t} x={92} y={obsY[i]} textLength={obsW[i]} lengthAdjust="spacingAndGlyphs">{t}</text>
        ))}
        {equipos.map((t, i) => (
          <text key={t} x={92} y={eqY[i]} textLength={eqW[i]} lengthAdjust="spacingAndGlyphs">{t}</text>
        ))}
        {observaciones.map((t, i) => (
          <text key={t} x={1379} y={acY[i]} textLength={acW[i]} lengthAdjust="spacingAndGlyphs">{t}</text>
        ))}
      </g>
    </svg>
  )
}

export default function App() {
  return (
    <div style={{ position: "absolute", left: 0, top: 0, width: 3867, height: 2938, background: "#fff", fontFamily: SANS, overflow: "hidden" }}>
      <LightCurve />
      <ResidueHistogram />
      <PeriodScan />
      <DataTable
        left={2382} top={1927}
        widths={[158, 180, 156, 136, 117, 130, 114, 116, 55]}
        head={lcdbHead} rows={[lcdbRow]}
        align={["right", "left", "left", "right", "right", "right", "right", "right", "left"]}
        rowH={[56, 59]}
      />
      <DataTable
        left={2120} top={2065}
        widths={[307, 357, 182, 214, 171, 150, 117, 105, 56]}
        head={refHead} rows={refRows}
        align={["left", "left", "left", "left", "right", "right", "right", "right", "left"]}
        rowH={[58, 59, 59, 57, 57]}
        linkCol={1}
      />
      <RedBox x={2380} y={1980} w={343} h={64} />
      <RedBox x={2879} y={1980} w={130} h={64} />
      <RedBox x={3129} y={1924} w={130} h={120} />
      <RedBox x={3489} y={1924} w={55} h={120} />
      <RedBox x={3180} y={2063} w={171} h={292} />
      <RedBox x={3723} y={2063} w={56} h={292} />
      <Overlay />
    </div>
  )
}
